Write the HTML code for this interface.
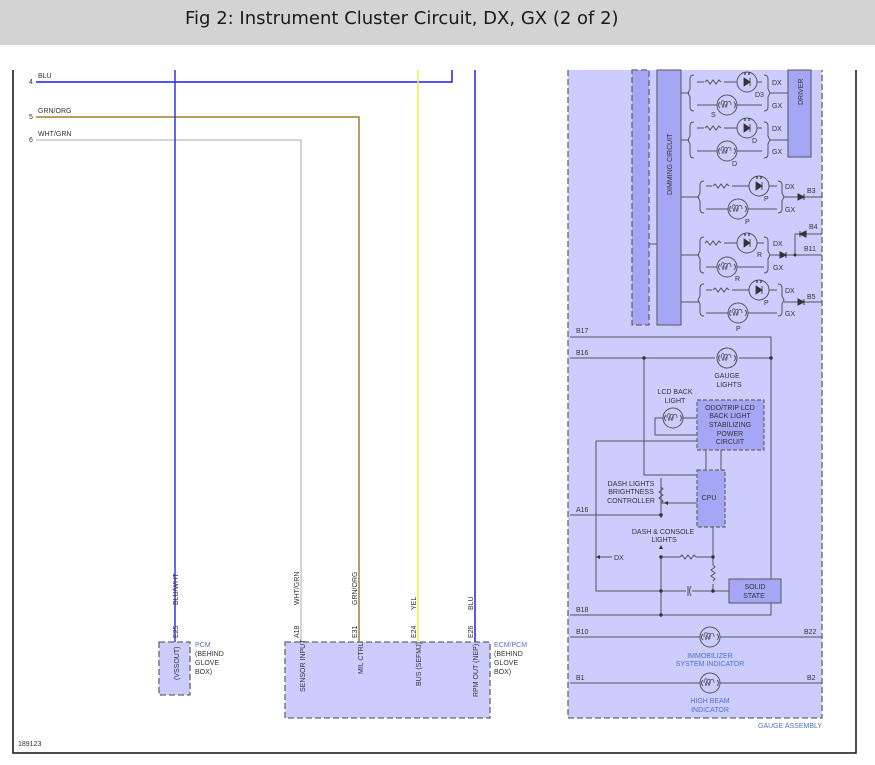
<!DOCTYPE html>
<html><head><meta charset="utf-8"><style>
body{margin:0;width:875px;height:765px;background:#fff;overflow:hidden;font-family:"Liberation Sans",sans-serif}
.t{position:absolute;left:0;top:0;width:875px;height:45px;background:#d3d3d3}
.t span{position:absolute;left:185px;top:8px;font-size:18px;color:#1a1a1a;font-family:"DejaVu Sans","Liberation Sans",sans-serif}
svg{position:absolute;left:0;top:0}
text{font-family:"Liberation Sans",sans-serif;font-size:7px;fill:#333}
.b{fill:#4f74c8}
</style></head><body>
<div class="t"><span>Fig 2: Instrument Cluster Circuit, DX, GX (2 of 2)</span></div>
<svg width="875" height="765" viewBox="0 0 875 765">
<defs>
<g id="lamp"><circle r="10" fill="none" stroke="#555" stroke-width="1"/><path d="M-7,3 q-3,-3 0,-6 M7,3 q3,-3 0,-6" fill="none" stroke="#555"/><path d="M-6,0 c0,-6 4,-6 3,0 c0,3 -3,3 -1,0 c2,-5 5,-5 4,0 c0,3 -3,3 -1,0 c2,-5 5,-5 5,0" fill="none" stroke="#555" stroke-width=".8"/></g>
<g id="led"><circle r="10" fill="none" stroke="#555"/><path d="M-3,-4 L3,0 L-3,4Z M3,-4 V4" fill="#333" stroke="#333" stroke-width=".8"/><path d="M-2,-7 v-3 M2,-7 v-3" stroke="#333" stroke-width="1.2"/></g>
<g id="res"><path d="M0,0 l2,-2 l3,4 l3,-4 l3,4 l3,-4 l2,2" fill="none" stroke="#555"/></g>
<g id="dio"><path d="M-3,-3 L3,0 L-3,3Z M3,-3 V3" fill="#333" stroke="#333"/></g>
</defs>
<path d="M13,70 V753 H856 V70" fill="none" stroke="#111" stroke-width="1.5"/>
<path d="M36,82 H452 V70" fill="none" stroke="#1a1aff" stroke-width="1.5"/>
<path d="M36,117 H359 V643" fill="none" stroke="#a08030" stroke-width="1.5"/>
<path d="M36,140 H301 V643" fill="none" stroke="#c8c8c8" stroke-width="1.5"/>
<path d="M175,70 V643" stroke="#3333ee" stroke-width="1.5"/>
<path d="M418,70 V643" stroke="#f0f040" stroke-width="1.5"/>
<path d="M475,70 V643" stroke="#2222dd" stroke-width="1.5"/>
<text x="38" y="78">BLU</text><text x="29" y="84" font-size="6">4</text>
<text x="38" y="113">GRN/ORG</text><text x="29" y="119" font-size="6">5</text>
<text x="38" y="136">WHT/GRN</text><text x="29" y="142" font-size="6">6</text>
<rect x="159" y="642" width="31" height="53" fill="#ccccff" stroke="#666" stroke-width="1.3" stroke-dasharray="6,3"/>
<rect x="285" y="642" width="205" height="76" fill="#ccccff" stroke="#666" stroke-width="1.3" stroke-dasharray="6,3"/>
<g transform="rotate(-90)">
<text x="-605" y="178">BLU/WHT</text><text x="-638" y="178">E25</text><text x="-680" y="179">(VSSOUT)</text>
<text x="-605" y="299">WHT/GRN</text><text x="-638" y="299">A18</text><text x="-692" y="305">SENSOR INPUT</text>
<text x="-605" y="357">GRN/ORG</text><text x="-638" y="357">E31</text><text x="-674" y="363">MIL CTRL</text>
<text x="-610" y="416">YEL</text><text x="-638" y="416">E24</text><text x="-686" y="421">BUS (SEFMJ)</text>
<text x="-610" y="473">BLU</text><text x="-638" y="473">E26</text><text x="-697" y="478">RPM OUT (NEP)</text>
</g>
<text x="195" y="647" class="b">PCM</text><text x="195" y="656">(BEHIND</text><text x="195" y="665">GLOVE</text><text x="195" y="674">BOX)</text>
<text x="494" y="647" class="b">ECM/PCM</text><text x="494" y="656">(BEHIND</text><text x="494" y="665">GLOVE</text><text x="494" y="674">BOX)</text>
<text x="18" y="746" font-size="6.5">189123</text>
<path d="M568,70 V718 H822 V70" fill="#ccccff" stroke="#666" stroke-width="1.3" stroke-dasharray="6,3"/>
<text x="758" y="728" class="b">GAUGE ASSEMBLY</text>
<rect x="632" y="70" width="17" height="255" fill="#a6a6f6" stroke="#666" stroke-width="1.3" stroke-dasharray="6,3"/>
<rect x="657" y="70" width="24" height="255" fill="#a6a6f6" stroke="#555"/>
<text transform="translate(672,195) rotate(-90)">DIMMING CIRCUIT</text>
<rect x="788" y="70" width="23" height="87" fill="#a6a6f6" stroke="#555"/>
<text transform="translate(803,105) rotate(-90)">DRIVER</text>
<path d="M649,244 H657" stroke="#555"/>
<g stroke="#555" fill="none">
<path d="M681,93 H689 M681,140 H689"/>
<path d="M694,75 q-4,0 -4,4 v10 l-2,4 l2,4 v10 q0,4 4,4 M694,122 q-4,0 -4,4 v10 l-2,4 l2,4 v10 q0,4 4,4"/>
<path d="M697,82 H762 M697,105 H762 M697,128 H762 M697,151 H762"/>
<path d="M764,75 q4,0 4,4 v10 l2,4 l-2,4 v10 q0,4 -4,4 M764,122 q4,0 4,4 v10 l2,4 l-2,4 v10 q0,4 -4,4"/>
<path d="M770,93 H788 M770,140 H788"/>
<path d="M681,197 H699 M681,255 H699 M681,302 H699"/>
<path d="M704,181 q-4,0 -4,4 v8 l-2,4 l2,4 v8 q0,4 4,4 M704,237 q-4,0 -4,4 v10 l-2,4 l2,4 v10 q0,4 4,4 M704,284 q-4,0 -4,4 v8 l-2,4 l2,4 v8 q0,4 4,4"/>
<path d="M706,186 H777 M706,209 H777 M706,243 H764 M706,267 H764 M706,290 H777 M706,313 H777"/>
<path d="M778,181 q4,0 4,4 v8 l2,4 l-2,4 v8 q0,4 -4,4 M764,237 q4,0 4,4 v10 l2,4 l-2,4 v10 q0,4 -4,4 M778,284 q4,0 4,4 v8 l2,4 l-2,4 v8 q0,4 -4,4"/>
<path d="M784,197 H822 M770,255 H822 M795,255 V234 H822 M784,302 H822"/>
</g>
<rect x="704" y="78" width="20" height="8" fill="#ccccff"/><use href="#res" x="705" y="82"/>
<rect x="704" y="124" width="20" height="8" fill="#ccccff"/><use href="#res" x="705" y="128"/>
<rect x="712" y="182" width="20" height="8" fill="#ccccff"/><use href="#res" x="713" y="186"/>
<rect x="704" y="239" width="20" height="8" fill="#ccccff"/><use href="#res" x="705" y="243"/>
<rect x="712" y="286" width="20" height="8" fill="#ccccff"/><use href="#res" x="713" y="290"/>
<g fill="#ccccff">
<circle cx="747" cy="82" r="10"/><circle cx="727" cy="105" r="10"/><circle cx="747" cy="128" r="10"/><circle cx="727" cy="151" r="10"/>
<circle cx="759" cy="186" r="10"/><circle cx="738" cy="209" r="10"/><circle cx="747" cy="243" r="10"/><circle cx="727" cy="267" r="10"/><circle cx="759" cy="290" r="10"/><circle cx="738" cy="313" r="10"/>
</g>
<use href="#led" x="747" y="82"/><use href="#lamp" x="727" y="105"/><use href="#led" x="747" y="128"/><use href="#lamp" x="727" y="151"/>
<use href="#led" x="759" y="186"/><use href="#lamp" x="738" y="209"/><use href="#led" x="747" y="243"/><use href="#lamp" x="727" y="267"/><use href="#led" x="759" y="290"/><use href="#lamp" x="738" y="313"/>
<use href="#dio" x="801" y="197"/><use href="#dio" x="783" y="255"/><use href="#dio" x="803" y="234" transform="rotate(180 803 234)"/><use href="#dio" x="801" y="302"/>
<circle cx="795" cy="255" r="1.5" fill="#333"/>
<text x="772" y="85">DX</text><text x="772" y="108">GX</text><text x="755" y="97">D3</text><text x="711" y="117">S</text>
<text x="772" y="131">DX</text><text x="772" y="154">GX</text><text x="752" y="143">D</text><text x="732" y="166">D</text>
<text x="785" y="189">DX</text><text x="785" y="212">GX</text><text x="764" y="201">P</text><text x="745" y="224">P</text><text x="807" y="193">B3</text>
<text x="773" y="246">DX</text><text x="773" y="270">GX</text><text x="757" y="257">R</text><text x="735" y="281">R</text><text x="809" y="229">B4</text><text x="804" y="251">B11</text>
<text x="785" y="293">DX</text><text x="785" y="316">GX</text><text x="764" y="305">P</text><text x="736" y="331">P</text><text x="807" y="299">B5</text>
<g stroke="#555" fill="none">
<path d="M570,337 H771 V579 M570,358 H715 M739,358 H771 M644,358 V475 H697 M570,515 H661 M661,478 V518 M596,441 H697 M596,441 V591 H686 M692,591 H729 M661,557 V615 M661,557 H680 M696,557 H713 M713,527 V565 M713,584 V591 M570,615 H771 V603 M706,450 V470 M721,450 V470 M661,503 H697 M663,418 H655 V435 H697 M683,418 H697"/>
<path d="M570,637 H700 M720,637 H822 M570,683 H700 M720,683 H822"/>
<path d="M596,557 H612"/>
</g>
<circle cx="727" cy="358" r="10" fill="#ccccff" stroke="#555" stroke-dasharray="3,2"/><use href="#lamp" x="727" y="358"/>
<circle cx="673" cy="418" r="10" fill="#ccccff"/><use href="#lamp" x="673" y="418"/>
<circle cx="710" cy="637" r="10" fill="#ccccff"/><use href="#lamp" x="710" y="637"/>
<circle cx="710" cy="683" r="10" fill="#ccccff"/><use href="#lamp" x="710" y="683"/>
<rect x="697" y="400" width="67" height="50" fill="#a6a6f6" stroke="#666" stroke-width="1.2" stroke-dasharray="4,2"/>
<rect x="697" y="470" width="28" height="57" fill="#a6a6f6" stroke="#666" stroke-width="1.2" stroke-dasharray="4,2"/>
<rect x="729" y="579" width="52" height="24" fill="#a6a6f6" stroke="#555"/>
<use href="#res" x="680" y="557"/><use href="#res" x="713" y="565" transform="rotate(90 713 565)"/><use href="#res" x="661" y="487" transform="rotate(90 661 487)"/>
<path d="M688,586 V596 M691,586 q-3,5 0,10" stroke="#555" fill="none"/>
<path d="M661,518 l-2,-4 h4z M661,545 l-2,4 h4z M596,557 l4,-2 v4z M664,503 l4,-2 v4z" fill="#333"/>
<g fill="#333"><circle cx="644" cy="358" r="1.7"/><circle cx="771" cy="358" r="1.7"/><circle cx="661" cy="515" r="1.7"/><circle cx="661" cy="557" r="1.7"/><circle cx="713" cy="557" r="1.7"/><circle cx="713" cy="591" r="1.7"/><circle cx="661" cy="591" r="1.7"/><circle cx="661" cy="615" r="1.7"/></g>
<text x="576" y="333">B17</text><text x="576" y="355">B16</text><text x="576" y="512">A16</text><text x="576" y="612">B18</text><text x="576" y="634">B10</text><text x="576" y="680">B1</text><text x="804" y="634">B22</text><text x="807" y="680">B2</text>
<text x="727" y="378" text-anchor="middle">GAUGE</text><text x="729" y="387" text-anchor="middle">LIGHTS</text>
<text x="675" y="394" text-anchor="middle">LCD BACK</text><text x="675" y="403" text-anchor="middle">LIGHT</text>
<text x="730" y="410" text-anchor="middle">ODO/TRIP LCD</text><text x="730" y="418" text-anchor="middle">BACK LIGHT</text><text x="730" y="427" text-anchor="middle">STABILIZING</text><text x="730" y="436" text-anchor="middle">POWER</text><text x="730" y="444" text-anchor="middle">CIRCUIT</text>
<text x="709" y="500" text-anchor="middle">CPU</text>
<text x="631" y="486" text-anchor="middle">DASH LIGHTS</text><text x="631" y="494" text-anchor="middle">BRIGHTNESS</text><text x="631" y="503" text-anchor="middle">CONTROLLER</text>
<text x="663" y="534" text-anchor="middle">DASH &amp; CONSOLE</text><text x="664" y="542" text-anchor="middle">LIGHTS</text>
<text x="614" y="560">DX</text>
<text x="755" y="589" text-anchor="middle">SOLID</text><text x="754" y="598" text-anchor="middle">STATE</text>
<text x="710" y="658" text-anchor="middle" class="b">IMMOBILIZER</text><text x="710" y="666" text-anchor="middle" class="b">SYSTEM INDICATOR</text>
<text x="710" y="703" text-anchor="middle" class="b">HIGH BEAM</text><text x="710" y="712" text-anchor="middle" class="b">INDICATOR</text>
</svg>
</body></html>
